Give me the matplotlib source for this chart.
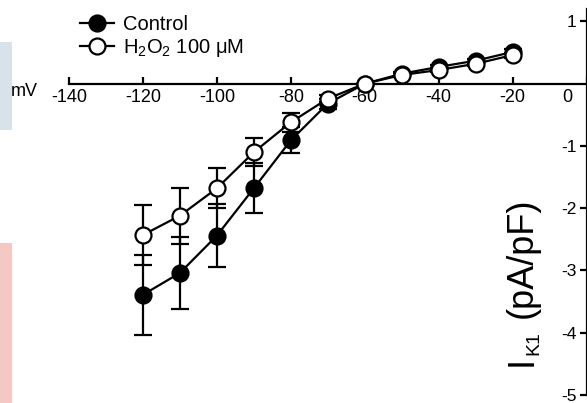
import matplotlib
matplotlib.use("Agg")
import matplotlib.pyplot as plt
from matplotlib.patches import Rectangle
from matplotlib.transforms import ScaledTranslation

plt.rcParams['font.family'] = ['Liberation Sans', 'DejaVu Sans']

# membrane potential (mV)
voltage = [-120, -110, -100, -90, -80, -70, -60, -50, -40, -30, -20]

# IK1 current density (pA/pF), mean and SEM
control_mean = [-3.39, -3.04, -2.44, -1.68, -0.91, -0.32, 0.0, 0.16, 0.27, 0.37, 0.51]
control_sem = [0.64, 0.58, 0.50, 0.40, 0.21, 0.08, 0.0, 0.03, 0.03, 0.03, 0.04]
h2o2_mean = [-2.43, -2.12, -1.68, -1.10, -0.62, -0.24, 0.0, 0.14, 0.22, 0.32, 0.46]
h2o2_sem = [0.48, 0.45, 0.32, 0.22, 0.15, 0.06, 0.0, 0.03, 0.03, 0.03, 0.04]

xticks = [-140, -120, -100, -80, -60, -40, -20, 0]
yticks = [-5, -4, -3, -2, -1, 1]

W, H = 587, 403
fig = plt.figure(figsize=(W / 100, H / 100), dpi=100)


def px(x, y):
    # pixel position (from top-left) -> figure fraction
    return x / W, 1 - y / H


# faint watermark remains at the left edge
fig.patches.append(Rectangle(px(0, 130), 12 / W, 88 / H, transform=fig.transFigure,
                             facecolor='#d8e2ea', edgecolor='none', zorder=0))
fig.patches.append(Rectangle((0, 0), 12 / W, 160 / H, transform=fig.transFigure,
                             facecolor='#f6c8c3', edgecolor='none', zorder=0))

ax = fig.add_axes([69 / W, 8 / H, 517.5 / W, 386 / H])
ax.set_xlim(-140, 0)
ax.set_ylim(-5, 1.2)

lw = 1.6
ms = 11.5
ax.errorbar(voltage, control_mean, yerr=control_sem, color='black', lw=lw, elinewidth=lw,
            capsize=6.5, capthick=lw, marker='o', ms=ms, mfc='black', mec='black', mew=lw, zorder=3)
ax.errorbar(voltage, h2o2_mean, yerr=h2o2_sem, color='black', lw=lw, elinewidth=lw,
            capsize=6.5, capthick=lw, marker='o', ms=ms, mfc='white', mec='black', mew=lw, zorder=4)

for s in ['top', 'right']:
    ax.spines[s].set_visible(False)
ax.spines['bottom'].set_position(('data', 0))
ax.spines['left'].set_position(('data', 0))
ax.spines['bottom'].set_linewidth(1.6)
ax.spines['left'].set_linewidth(1.6)

ax.set_xticks(xticks)
ax.set_xticklabels([str(t) for t in xticks])
ax.set_yticks(yticks)
ax.set_yticklabels([str(t) for t in yticks])
ax.tick_params(axis='x', direction='in', length=5, width=1.6, labelsize=13, pad=4)
ax.tick_params(axis='y', direction='out', length=5, width=1.6, labelsize=12.5, pad=2)

# move the "0" label left, off the vertical axis
lab0 = ax.get_xticklabels()[-1]
lab0.set_transform(lab0.get_transform() + ScaledTranslation(-0.19, 0, fig.dpi_scale_trans))

fig.text(*px(24, 92), 'mV', fontsize=13, ha='center', va='center')

# y label built from pieces so the subscript sits tight
lab_kw = dict(rotation=90, rotation_mode='anchor', ha='left', va='baseline')
fig.text(*px(532, 366), 'I', fontsize=26, **lab_kw)
fig.text(*px(538, 355), 'K1', fontsize=14, **lab_kw)
fig.text(*px(532, 318), '(pA/pF)', fontsize=26, **lab_kw)

h1, = ax.plot([], [], color='black', lw=lw, marker='o', ms=ms, mfc='black', mec='black', mew=lw)
h2, = ax.plot([], [], color='black', lw=lw, marker='o', ms=ms, mfc='white', mec='black', mew=lw)
fig.legend([h1, h2], ['Control', r'H$_\mathregular{2}$O$_\mathregular{2}$ 100 μM'],
           loc='upper left', bbox_to_anchor=px(80, 15), frameon=False,
           fontsize=14.5, handlelength=1.7, handletextpad=0.45, labelspacing=0.15,
           borderpad=0, borderaxespad=0)

plt.savefig('out.png', dpi=100)
